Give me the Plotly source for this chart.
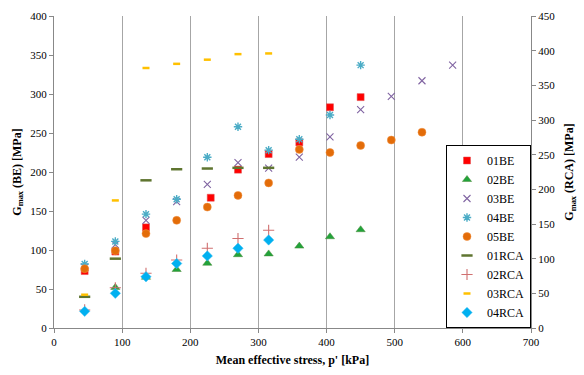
import plotly.graph_objects as go

# Mean effective stress p' [kPa]
x_01be = [45, 90, 135, 230, 270, 315, 360, 405, 450]
y_01be = [73, 98, 129, 167, 203, 223, 238, 283, 296]

x_02be = [90, 135, 180, 225, 270, 315, 360, 405, 450]
y_02be = [52, 65, 75, 83, 94, 95, 105, 117, 126]

x_03be = [45, 90, 135, 180, 225, 270, 315, 360, 405, 450, 495, 540, 585]
y_03be = [78, 107, 138, 162, 184, 212, 205, 219, 245, 280, 297, 317, 337]

x_04be = [45, 90, 135, 180, 225, 270, 315, 360, 405, 450]
y_04be = [82, 111, 146, 165, 219, 258, 228, 242, 273, 337]

x_05be = [45, 90, 135, 180, 225, 270, 315, 360, 405, 450, 495, 540]
y_05be = [76, 99, 121, 138, 155, 170, 186, 229, 225, 234, 241, 251]

x_rca = [45, 90, 135, 180, 225, 270, 315]
y_01rca = [45, 100, 213, 229, 230, 231, 231]
y_02rca = [26, 58, 79, 98, 115, 129, 141]
y_03rca = [48, 184, 375, 381, 387, 395, 396]
y_04rca = [24, 50, 74, 93, 104, 115, 127]

x_ticks = [0, 100, 200, 300, 400, 500, 600, 700]

FONT = "Liberation Serif, Times New Roman, serif"

fig = go.Figure()

def add(name, xs, ys, symbol, color, size, axis="y", lw=0, lcolor=None):
    fig.add_trace(go.Scatter(
        x=xs, y=ys, name=name, mode="markers", yaxis=axis,
        marker=dict(symbol=symbol, color=color, size=size,
                    line=dict(width=lw, color=lcolor or color)),
    ))

add("01BE", x_01be, y_01be, "square", "#FF0000", 7, lw=0.5, lcolor="#E05050")
add("02BE", x_02be, y_02be, "triangle-up", "#22A33A", 8, lw=0.5, lcolor="#4A8A3A")
add("03BE", x_03be, y_03be, "x-thin-open", "#8064A2", 7, lw=1.1)
add("04BE", x_04be, y_04be, "asterisk-open", "#4BACC6", 7, lw=1.4)
add("05BE", x_05be, y_05be, "circle", "#E36C09", 8, lw=0.5, lcolor="#F09040")
add("01RCA", x_rca, y_01rca, "line-ew-open", "#5F7530", 8, axis="y2", lw=2.5)
add("02RCA", x_rca, y_02rca, "cross-thin-open", "#D07070", 8, axis="y2", lw=1.1)
add("03RCA", x_rca, y_03rca, "line-ew-open", "#FFC000", 5, axis="y2", lw=2.5)
add("04RCA", x_rca, y_04rca, "diamond", "#00B0F0", 8, axis="y2", lw=0.5, lcolor="#40C0F0")

fig.update_layout(
    width=584, height=375,
    margin=dict(l=54, r=52, t=10, b=46),
    paper_bgcolor="white", plot_bgcolor="white",
    font=dict(family=FONT, size=11, color="black"),
    showlegend=True,
    legend=dict(
        x=1, y=0, xanchor="right", yanchor="bottom",
        bgcolor="white", bordercolor="black", borderwidth=1,
        font=dict(family=FONT, size=12, color="black"),
        tracegroupgap=0, itemwidth=30,
    ),
    xaxis=dict(
        range=[0, 700], tickvals=x_ticks, ticks="outside", ticklen=4,
        tickcolor="#888888", showline=True, linecolor="#888888", linewidth=1,
        showgrid=True, gridcolor="#A6A6A6", gridwidth=1.3, zeroline=False,
        title=dict(text="Mean effective stress, p' [kPa]",
                   font=dict(family=FONT, size=12, weight="bold"), standoff=8),
        tickfont=dict(family=FONT, size=11),
    ),
    yaxis=dict(
        range=[0, 400], dtick=50, ticks="outside", ticklen=4,
        tickcolor="#888888", showline=True, linecolor="#888888", linewidth=1,
        showgrid=False, zeroline=False,
        title=dict(text="G<sub>max</sub> (BE) [MPa]",
                   font=dict(family=FONT, size=12, weight="bold"), standoff=6),
        tickfont=dict(family=FONT, size=11),
    ),
    yaxis2=dict(
        range=[0, 450], dtick=50, ticks="outside", ticklen=4, overlaying="y",
        side="right", anchor="x",
        tickcolor="#888888", showline=True, linecolor="#888888", linewidth=1,
        showgrid=False, zeroline=False,
        title=dict(text="G<sub>max</sub> (RCA) [MPa]",
                   font=dict(family=FONT, size=12, weight="bold"), standoff=10),
        tickfont=dict(family=FONT, size=11),
    ),
)

fig.write_html("out.html", config={"displayModeBar": False},
               post_script="document.body.style.margin='0';")
